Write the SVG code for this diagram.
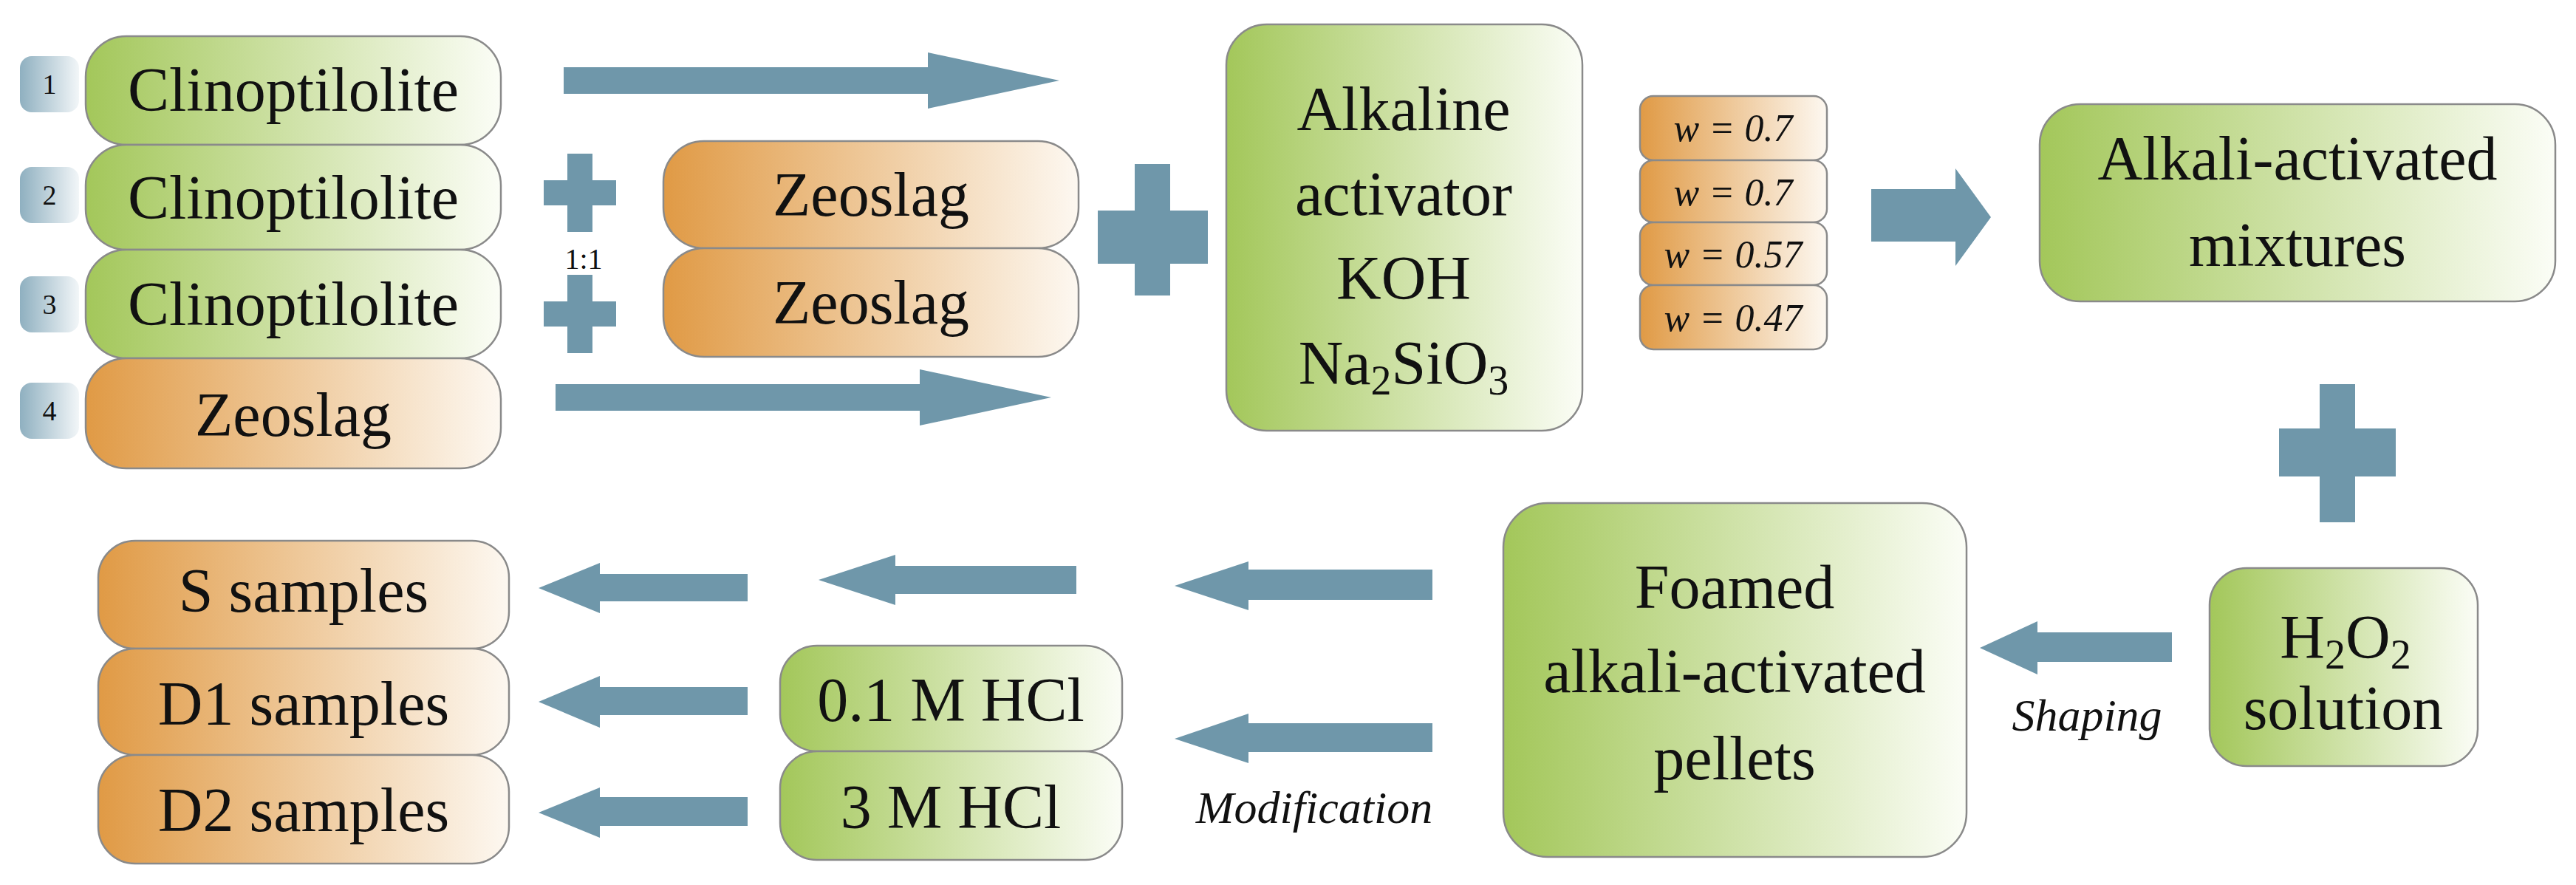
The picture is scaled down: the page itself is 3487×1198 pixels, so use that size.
<svg xmlns="http://www.w3.org/2000/svg" width="3487" height="1198" viewBox="0 0 3487 1198">
<defs>
<linearGradient id="g" x1="0" y1="0" x2="1" y2="0"><stop offset="0" stop-color="#a3c75a"/><stop offset="1" stop-color="#fbfdf6"/></linearGradient>
<linearGradient id="o" x1="0" y1="0" x2="1" y2="0"><stop offset="0" stop-color="#e09a45"/><stop offset="1" stop-color="#fdf8f1"/></linearGradient>
<linearGradient id="b" x1="0" y1="0" x2="1" y2="0"><stop offset="0" stop-color="#8fb0c0"/><stop offset="1" stop-color="#f2f6f8"/></linearGradient>
</defs>
<style>
.gr{fill:url(#g);stroke:#8a8a8a;stroke-width:2.5}
.or{fill:url(#o);stroke:#8a8a8a;stroke-width:2.5}
.bd{fill:url(#b);stroke:none}
.ar{fill:#6f97aa}
text{font-family:"Liberation Serif","DejaVu Serif",serif;fill:#111;text-anchor:middle}
.t{font-size:84px}
.w{font-size:52px;font-style:italic}
.n{font-size:38px}
</style>
<g id="badges">
<rect class="bd" x="27" y="76" width="80" height="76" rx="16"/><text class="n" x="67" y="127">1</text>
<rect class="bd" x="27" y="226" width="80" height="76" rx="16"/><text class="n" x="67" y="277">2</text>
<rect class="bd" x="27" y="374" width="80" height="76" rx="16"/><text class="n" x="67" y="425">3</text>
<rect class="bd" x="27" y="518" width="80" height="76" rx="16"/><text class="n" x="67" y="569">4</text>
</g>
<g id="clino1"><rect class="gr" x="116" y="49" width="562" height="147" rx="55"/><text class="t" x="397" y="150">Clinoptilolite</text></g>
<g id="clino2"><rect class="gr" x="116" y="196" width="562" height="142" rx="55"/><text class="t" x="397" y="296">Clinoptilolite</text></g>
<g id="clino3"><rect class="gr" x="116" y="338" width="562" height="147" rx="55"/><text class="t" x="397" y="440">Clinoptilolite</text></g>
<g id="zeo4"><rect class="or" x="116" y="485" width="562" height="149" rx="55"/><text class="t" x="397" y="590">Zeoslag</text></g>
<g id="zeo2"><rect class="or" x="898" y="191" width="562" height="145" rx="55"/><text class="t" x="1179" y="292">Zeoslag</text></g>
<g id="zeo3"><rect class="or" x="898" y="336" width="562" height="147" rx="55"/><text class="t" x="1179" y="438">Zeoslag</text></g>
<g id="alkaline"><rect class="gr" x="1660" y="33" width="482" height="550" rx="55"/>
<text class="t" x="1900" y="176">Alkaline</text><text class="t" x="1900" y="291">activator</text><text class="t" x="1900" y="405">KOH</text>
<text class="t" x="1900" y="520">Na<tspan font-size="56" dy="14">2</tspan><tspan dy="-14">SiO</tspan><tspan font-size="56" dy="14">3</tspan></text></g>
<g id="wvals">
<rect class="or" x="2220" y="130" width="253" height="87" rx="18"/><text class="w" x="2346" y="191">w = 0.7</text>
<rect class="or" x="2220" y="217" width="253" height="84" rx="18"/><text class="w" x="2346" y="278">w = 0.7</text>
<rect class="or" x="2220" y="301" width="253" height="85" rx="18"/><text class="w" x="2346" y="362">w = 0.57</text>
<rect class="or" x="2220" y="386" width="253" height="87" rx="18"/><text class="w" x="2346" y="448">w = 0.47</text>
</g>
<g id="mixtures"><rect class="gr" x="2761" y="141" width="698" height="267" rx="55"/><text class="t" x="3110" y="243">Alkali-activated</text><text class="t" x="3110" y="360">mixtures</text></g>
<g id="h2o2"><rect class="gr" x="2991" y="769" width="363" height="268" rx="50"/><text class="t" x="3175" y="891">H<tspan font-size="56" dy="14">2</tspan><tspan dy="-14">O</tspan><tspan font-size="56" dy="14">2</tspan></text><text class="t" x="3172" y="987">solution</text></g>
<g id="foamed"><rect class="gr" x="2035" y="681" width="627" height="479" rx="60"/><text class="t" x="2348" y="823">Foamed</text><text class="t" x="2348" y="937">alkali-activated</text><text class="t" x="2348" y="1055">pellets</text></g>
<g id="hcl1"><rect class="gr" x="1056" y="874" width="463" height="143" rx="50"/><text class="t" x="1287" y="976">0.1 M HCl</text></g>
<g id="hcl2"><rect class="gr" x="1056" y="1017" width="463" height="147" rx="50"/><text class="t" x="1287" y="1121">3 M HCl</text></g>
<g id="S"><rect class="or" x="133" y="732" width="556" height="146" rx="50"/><text class="t" x="411" y="828">S samples</text></g>
<g id="D1"><rect class="or" x="133" y="878" width="556" height="144" rx="50"/><text class="t" x="411" y="981">D1 samples</text></g>
<g id="D2"><rect class="or" x="133" y="1022" width="556" height="147" rx="50"/><text class="t" x="411" y="1125">D2 samples</text></g>
<g id="connectors">
<polygon class="ar" points="763,91 1256,91 1256,71 1434,109 1256,147 1256,127 763,127"/>
<polygon class="ar" points="752,520 1245,520 1245,500 1423,538 1245,576 1245,556 752,556"/>
<path class="ar" d="M768,208h34v36h32v34h-32v36h-34v-36h-32v-34h32z"/>
<path class="ar" d="M768,372h34v36h32v34h-32v36h-34v-36h-32v-34h32z"/>
<path class="ar" d="M1536,222h48v63h51v72h-51v43h-48v-43h-50v-72h50z"/>
<path class="ar" d="M3140,520h48v60h55v65h-55v62h-48v-62h-55v-65h55z"/>
<polygon class="ar" points="2533,256 2647,256 2647,228 2695,294 2647,360 2647,327 2533,327"/>
<polygon class="ar" points="2940,856 2758,856 2758,841 2680,877 2758,913 2758,896 2940,896"/>
<polygon class="ar" points="1939,771 1690,771 1690,760 1590,793 1690,826 1690,812 1939,812"/>
<polygon class="ar" points="1457,766 1212,766 1212,751 1108,785 1212,819 1212,804 1457,804"/>
<polygon class="ar" points="1012,777 812,777 812,762 729,796 812,830 812,814 1012,814"/>
<polygon class="ar" points="1012,930 812,930 812,915 729,950 812,985 812,968 1012,968"/>
<polygon class="ar" points="1012,1079 812,1079 812,1066 729,1100 812,1134 812,1118 1012,1118"/>
<polygon class="ar" points="1939,979 1690,979 1690,966 1590,1000 1690,1033 1690,1018 1939,1018"/>
</g>
<text x="790" y="364" style="font-size:40px">1:1</text>
<text x="2825" y="989" style="font-size:62px;font-style:italic">Shaping</text>
<text x="1779" y="1114" style="font-size:62px;font-style:italic">Modification</text>
</svg>
